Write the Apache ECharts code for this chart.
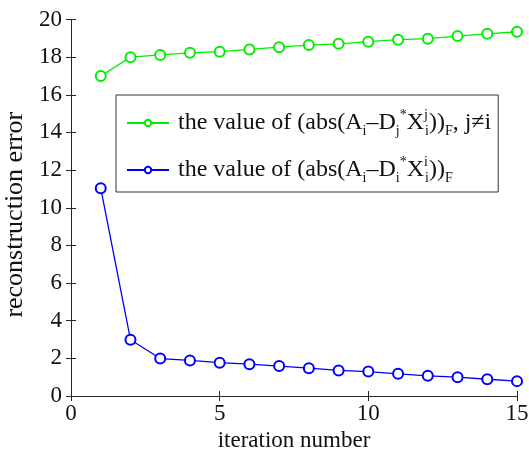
<!DOCTYPE html>
<html>
<head>
<meta charset="utf-8">
<script src="https://cdn.jsdelivr.net/npm/echarts@6/dist/echarts.min.js"></script>
<style>html,body{margin:0;padding:0;background:#fff;}#c{width:529px;height:459px;}</style>
</head>
<body>
<div id="c"></div>
<script>
var iterations = [1,2,3,4,5,6,7,8,9,10,11,12,13,14,15];
var crossError = [17.0,18.0,18.12,18.23,18.29,18.41,18.53,18.64,18.71,18.82,18.93,18.98,19.12,19.24,19.35];
var selfError = [11.04,2.99,1.99,1.89,1.77,1.69,1.59,1.48,1.36,1.30,1.18,1.07,1.0,0.89,0.79];
var xTicks = [0,5,10,15];
var yTicks = [0,2,4,6,8,10,12,14,16,18,20];
var seriesNames = ['cross', 'self'];

var FONT = "'Liberation Serif', 'Times New Roman', serif";
var AX = '#262626';
function pairs(xs, ys){ return xs.map(function(x,i){ return [x, ys[i]]; }); }

var chart = echarts.init(document.getElementById('c'), null, {renderer:'canvas'});
var baseAxis = {
  axisLine:{show:true, lineStyle:{color:AX, width:1}},
  axisTick:{show:true, inside:true, length:5, lineStyle:{color:AX}},
  splitLine:{show:false}
};
chart.setOption({
  animation:false,
  backgroundColor:'#fff',
  grid:{left:71, right:12, top:19.5, bottom:63, containLabel:false, outerBoundsMode:'none'},
  xAxis:[
    Object.assign({}, baseAxis, {type:'value', min:xTicks[0], max:xTicks[xTicks.length-1], interval:5, position:'bottom',
      name:'iteration number', nameLocation:'middle', nameGap:32,
      nameTextStyle:{fontFamily:FONT, fontSize:23, color:'#111'},
      axisLabel:{fontFamily:FONT, fontSize:23, color:'#111', margin:6}}),
    Object.assign({}, baseAxis, {type:'value', min:0, max:15, interval:5, position:'top', axisLabel:{show:false}})
  ],
  yAxis:[
    Object.assign({}, baseAxis, {type:'value', min:yTicks[0], max:yTicks[yTicks.length-1], interval:2, position:'left',
      name:'reconstruction error', nameLocation:'middle', nameGap:38,
      nameTextStyle:{fontFamily:FONT, fontSize:26, color:'#111', padding:[0,14,0,0]},
      axisLabel:{fontFamily:FONT, fontSize:23, color:'#111', margin:9}}),
    Object.assign({}, baseAxis, {type:'value', min:0, max:20, interval:2, position:'right', axisLabel:{show:false}})
  ],
  legend:{
    show:true, orient:'vertical', left:116, top:95,
    padding:[13, 7, 7, 10], itemGap:17,
    borderColor:'#333', borderWidth:1, backgroundColor:'#fff',
    itemWidth:42, itemHeight:8,
    data:seriesNames,
    formatter:function(n){
      if(n==='cross') return '{n|the value of (abs(A}{sub|i}{n|–D}{sub|j}{sup|*}{n|X}{supz|j}{sub|i}{n|))}{sub|F}{n|, j≠i}';
      return '{n|the value of (abs(A}{sub|i}{n|–D}{sub|i}{sup|*}{n|X}{supz|i}{sub|i}{n|))}{sub|F}';
    },
    textStyle:{
      fontFamily:FONT, fontSize:24, color:'#111', padding:[0,0,0,4],
      rich:{
        n:{fontFamily:FONT, fontSize:24, lineHeight:30, color:'#111', verticalAlign:'middle'},
        sub:{fontFamily:FONT, fontSize:14, lineHeight:13, color:'#111', verticalAlign:'bottom'},
        sup:{fontFamily:FONT, fontSize:14, lineHeight:18, color:'#111', verticalAlign:'top'},
        supz:{fontFamily:FONT, fontSize:14, lineHeight:18, width:1, color:'#111', verticalAlign:'top'}
      }
    }
  },
  series:[
    {name:seriesNames[0], type:'line', data:pairs(iterations, crossError), symbol:'emptyCircle', symbolSize:10,
     itemStyle:{color:'#00ee00', borderWidth:1.3}, lineStyle:{color:'#00ee00', width:1.3}},
    {name:seriesNames[1], type:'line', data:pairs(iterations, selfError), symbol:'emptyCircle', symbolSize:10,
     itemStyle:{color:'#0000ff', borderWidth:1.3}, lineStyle:{color:'#0000ff', width:1.3}}
  ]
});
</script>
</body>
</html>
